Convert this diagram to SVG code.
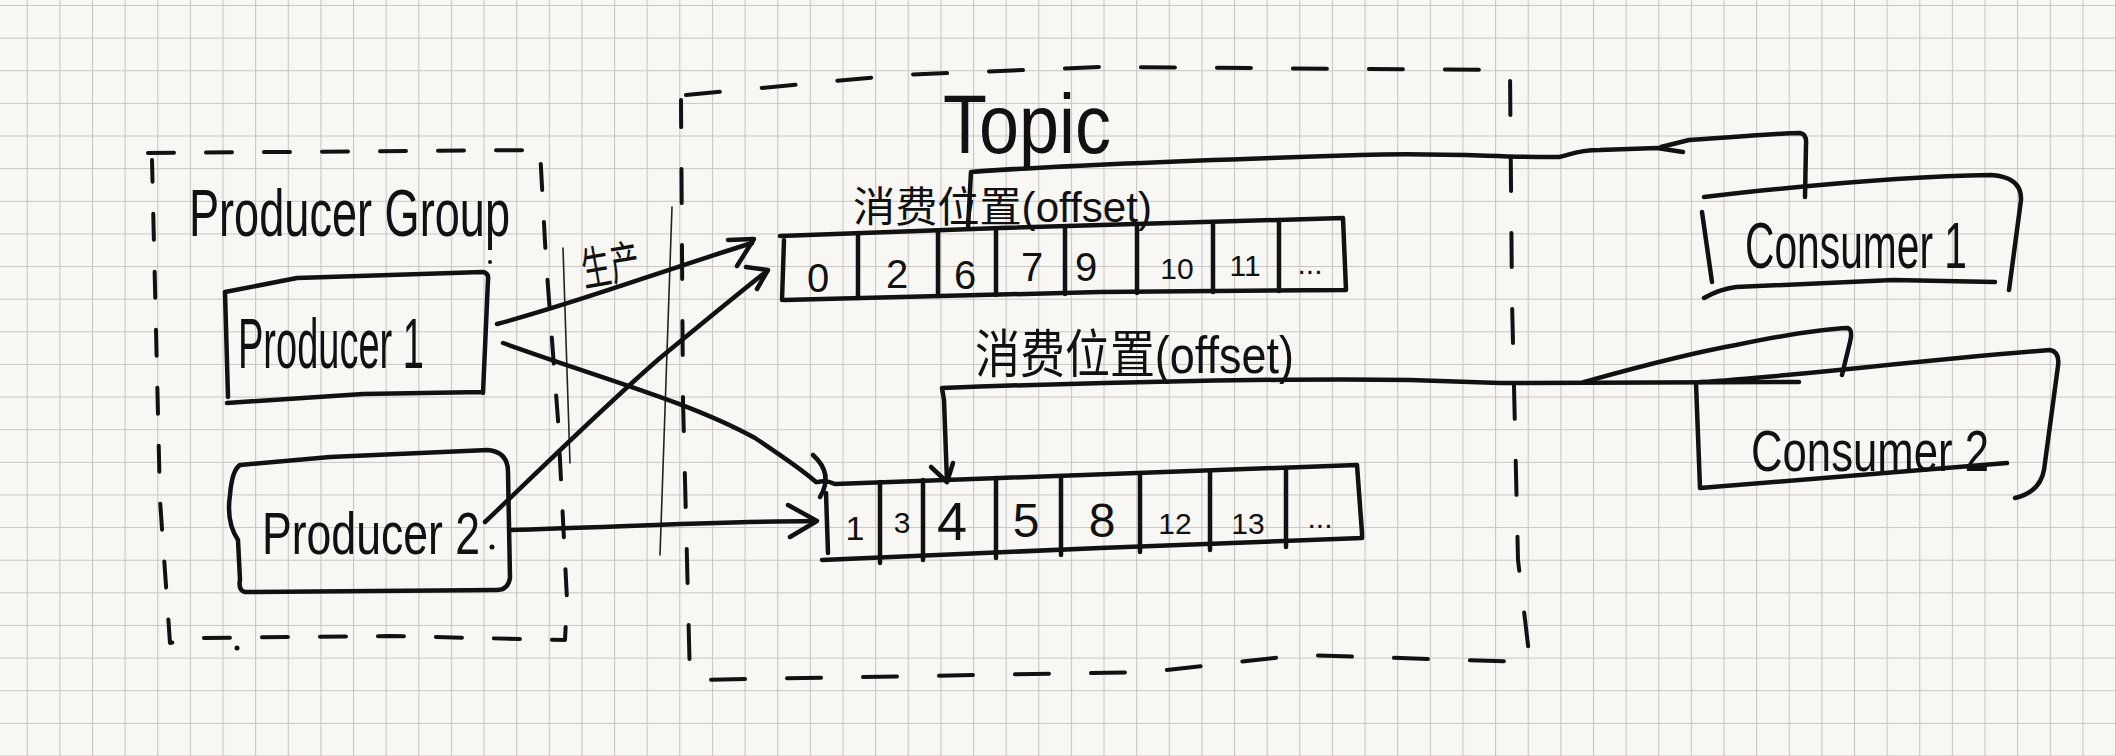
<svg xmlns="http://www.w3.org/2000/svg" width="2116" height="756" viewBox="0 0 2116 756">
<defs>
<pattern id="grid" x="26.7" y="5" width="32.63" height="32.63" patternUnits="userSpaceOnUse">
<path d="M0,0 H32.63 M0,0 V32.63" fill="none" stroke="#c9c5c1" stroke-width="2.2"/>
</pattern>
<style>
.ink{fill:none;stroke:#111;stroke-width:4.5;stroke-linecap:round;stroke-linejoin:round}
.thin{fill:none;stroke:#222;stroke-width:1.6;stroke-linecap:round}
.dash{fill:none;stroke:#111;stroke-width:4;stroke-linecap:round;stroke-linejoin:round}
.pg{stroke-dasharray:26 32}
.tp{stroke-dasharray:34 42}
.t{font-family:"Liberation Sans","Noto Sans CJK SC",sans-serif;fill:#111}
.num{font-family:"Liberation Sans",sans-serif;fill:#111;text-anchor:middle}
</style>
</defs>
<rect width="2116" height="756" fill="#f9f7f4"/>
<rect width="2116" height="756" fill="url(#grid)"/>

<g id="producer-group">
<path class="dash pg" d="M148,153 L540,150 L546,260 L558,420 L567,600 L565,640 L390,636 L200,638 L170,643 L160,500 L152,160"/>
<text class="t" x="189" y="236" font-size="66" textLength="321" lengthAdjust="spacingAndGlyphs">Producer Group</text>
<circle cx="490" cy="262" r="2" fill="#111"/>
<circle cx="237" cy="648" r="2.5" fill="#111"/>
</g>

<g id="producer1">
<path class="ink" d="M225,292 L297,278 L483,272 Q489,273 488,280 L483,393 M227,403 L363,394 L483,392 M225,292 L228,397"/>
<text class="t" x="238" y="368" font-size="70" textLength="186" lengthAdjust="spacingAndGlyphs">Producer 1</text>
</g>

<g id="producer2">
<path class="ink" d="M240,465 L330,457 L488,450 Q508,452 508,472 L510,578 Q508,590 497,590 L245,592 Q238,590 240,580 L238,540 Q226,522 230,495 Q232,470 240,465"/>
<text class="t" x="262" y="554" font-size="60" textLength="218" lengthAdjust="spacingAndGlyphs">Producer 2</text>
<circle cx="492" cy="547" r="2.5" fill="#111"/>
</g>

<g id="separators">
<path class="thin" d="M563,248 L570,463"/>
<path class="thin" d="M672,207 L660,555"/>
</g>

<g id="topic">
<path class="dash tp" d="M686,95 L900,75 L1100,67 L1510,70 L1512,300 L1518,560 L1530,662 L1300,655 L1150,672 L690,680 L683,400 L681,100"/>
<text class="t" x="943" y="153" font-size="84" textLength="168" lengthAdjust="spacingAndGlyphs">Topic</text>
</g>

<g id="partition1">
<path class="ink" d="M780,236 L1000,228 L1343,218 L1346,290 L1100,292 L784,300 M782,300 L784,240"/>
<path class="ink" d="M858,233 L858,298 M938,231 L938,296 M996,229 L996,295 M1065,227 L1065,294 M1137,225 L1137,293 M1213,222 L1213,292 M1279,220 L1279,291"/>
<g class="num" font-size="40">
<text x="818" y="292">0</text>
<text x="897" y="288">2</text>
<text x="965" y="289">6</text>
<text x="1032" y="281">7</text>
<text x="1086" y="281">9</text>
<text x="1177" y="279" font-size="30">10</text>
<text x="1245" y="276" font-size="30">11</text>
<text x="1310" y="274" font-size="30">...</text>
</g>
<text class="t" x="853" y="222" font-size="42" textLength="299" lengthAdjust="spacingAndGlyphs">消费位置(offset)</text>
</g>

<g id="partition2">
<path class="ink" d="M818,482 Q826,480 835,484 L1000,478 L1357,465 L1362,533 L1362,538 L1100,548 L822,560 M826,493 L828,553"/>
<path class="ink" d="M880,482 L880,563 M923,480 L923,560 M996,478 L996,558 M1061,476 L1061,555 M1140,474 L1140,552 M1210,471 L1210,550 M1286,468 L1286,547"/>
<g class="num" font-size="44">
<text x="855" y="540" font-size="34">1</text>
<text x="902" y="533" font-size="30">3</text>
<text x="952" y="540" font-size="54">4</text>
<text x="1026" y="537" font-size="48">5</text>
<text x="1102" y="537" font-size="48">8</text>
<text x="1175" y="534" font-size="30">12</text>
<text x="1248" y="534" font-size="30">13</text>
<text x="1320" y="528" font-size="30">...</text>
</g>
<text class="t" x="975" y="373" font-size="52" textLength="319" lengthAdjust="spacingAndGlyphs">消费位置(offset)</text>
</g>

<g id="consumer1">
<path class="ink" d="M1704,197 C1800,186 1900,176 1991,175 Q2022,177 2021,200 L2009,290 M1702,212 L1712,282 M1704,298 Q1720,289 1736,287 L1893,280 L1995,282"/>
<text class="t" x="1745" y="268" font-size="64" textLength="222" lengthAdjust="spacingAndGlyphs">Consumer 1</text>
</g>

<g id="consumer2">
<path class="ink" d="M1700,382 C1800,376 1900,362 2050,350 Q2060,352 2058,366 L2044,470 Q2040,492 2015,498 M1696,383 L1700,488 L2007,463"/>
<text class="t" x="1751" y="471" font-size="58" textLength="238" lengthAdjust="spacingAndGlyphs">Consumer 2</text>
</g>

<g id="connectors">
<path class="ink" d="M497,324 C570,305 650,275 752,243"/>
<path class="ink" d="M728,240 L754,239 L737,266"/>
<path class="ink" d="M485,522 C540,470 600,410 660,358 C700,325 740,292 767,271"/>
<path class="ink" d="M746,267 L768,270 L757,289"/>
<path class="ink" d="M503,343 C600,378 690,402 755,438 C785,458 805,472 816,482"/>
<path class="ink" d="M813,455 Q834,474 820,497"/>
<path class="ink" d="M510,530 C600,528 700,522 815,521"/>
<path class="ink" d="M788,505 L817,521 L790,537"/>
<path class="ink" d="M968,228 L971,172 C1050,166 1200,160 1360,155 C1450,152 1500,158 1559,157 C1570,155 1576,150 1600,150 L1657,148 L1683,152"/>
<path class="ink" d="M1661,147 L1689,140 C1740,137 1780,133 1800,133 Q1807,134 1806,145 L1805,197"/>
<path class="ink" d="M947,482 L944,400 L942,388 C1100,382 1300,378 1410,380 L1500,383 L1799,382"/>
<path class="ink" d="M931,467 L947,482 L953,463"/>
<path class="ink" d="M1584,382 C1620,372 1680,355 1736,345 C1780,336 1820,329 1848,328 Q1853,330 1850,342 L1842,375"/>
</g>

<g id="label-produce">
<text class="t" x="580" y="282" font-size="46" textLength="58" lengthAdjust="spacingAndGlyphs" transform="rotate(-10 608 258)">生产</text>
</g>
</svg>
